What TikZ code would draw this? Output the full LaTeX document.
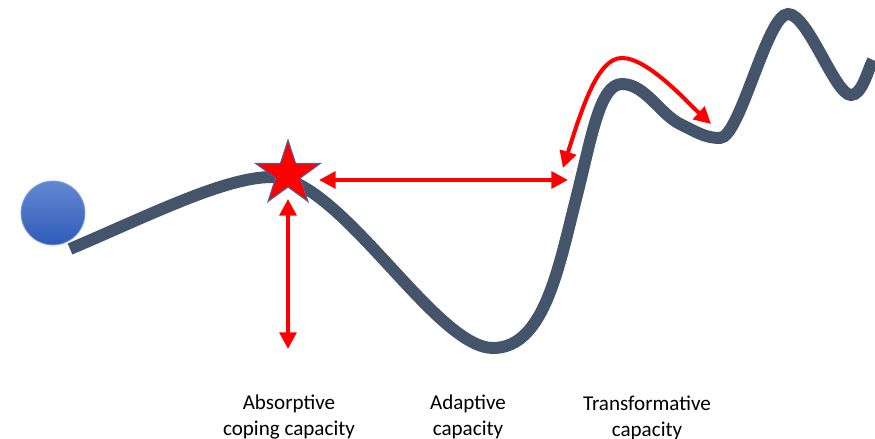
\documentclass[tikz,border=0pt]{standalone}
\usepackage{fontspec}
\setmainfont{Carlito}
\usetikzlibrary{arrows.meta,shapes.geometric}
\definecolor{pathgrey}{HTML}{44546A}
\definecolor{balltop}{HTML}{6388D2}
\definecolor{ballbottom}{HTML}{2F5BB7}
\definecolor{starline}{HTML}{4F5F9A}
\tikzset{
  capacity/.style={align=center, font=\fontsize{12}{14.5}\selectfont},
  redarrow/.style={draw=red, line width=2.3pt, {Triangle[length=9.5pt,width=9.5pt]}-{Triangle[length=9.5pt,width=9.5pt]}},
}
\begin{document}
\begin{tikzpicture}[x=0.02cm, y=-0.02cm]
  \useasboundingbox (0,0) rectangle (875,439);
  % Landscape
  \draw[pathgrey, line width=6.8pt] (70,249)
    .. controls (150,215) and (225,177) .. (272,177)
    .. controls (340,177) and (435,348) .. (493,348)
    .. controls (545,348) and (559,265) .. (577,195)
    .. controls (592,135) and (600,84) .. (622,84)
    .. controls (645,84) and (660,114) .. (680,124)
    .. controls (698,133) and (706,138) .. (720,138)
    .. controls (740,138) and (767,14) .. (788,14)
    .. controls (808,14) and (835,95) .. (851,95)
    .. controls (862,95) and (867,72) .. (873,60);
  % Ball
  \node[circle, minimum size=1.28cm, inner sep=0, top color=balltop, bottom color=ballbottom, draw=balltop!80, line width=0.5pt] (ball) at (53,213) {};
  % Shock
  \node[star, star points=5, star point ratio=2.618, minimum size=1.36cm, inner sep=0, fill=red, draw=starline, line width=0.6pt] (shock) at (288,174) {};
  % Absorptive coping capacity
  \coordinate (absT) at (288,199);
  \coordinate (absB) at (288,349);
  \draw[redarrow] (absT) -- (absB);
  % Adaptive capacity
  \coordinate (adaL) at (319,180);
  \coordinate (adaR) at (568,180);
  \draw[redarrow] (adaL) -- (adaR);
  % Transformative capacity
  \coordinate (traL) at (563,168);
  \coordinate (traT) at (622,58);
  \coordinate (traR) at (711,124);
  \draw[redarrow] (traL) .. controls (583,105) and (598,58) .. (traT) .. controls (648,58) and (688,103) .. (traR);
  % Labels
  \node[capacity] (absorptive) at (289,417) {Absorptive\\coping capacity};
  \node[capacity] (adaptive) at (468,417) {Adaptive\\capacity};
  \node[capacity] (transformative) at (647,418) {Transformative\\capacity};
\end{tikzpicture}
\end{document}
